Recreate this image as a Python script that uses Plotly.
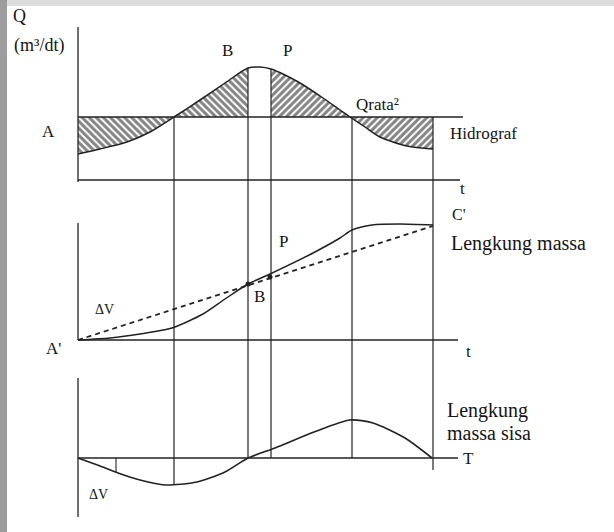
import plotly.graph_objects as go

# ---------------- data (arbitrary units) ----------------
# Hydrograph Q(t)
hyd_t = [0, 2.2, 4.9, 7.2, 9.6, 12.2, 14.7, 17.0, 18.2, 19.3, 20.7, 22.2, 24.5, 26.2, 27.2, 28.7, 30.2, 32.9, 35.5]
hyd_q = [2.6, 3.1, 3.8, 4.8, 6.3, 8.0, 9.7, 11.2, 11.3, 11.1, 10.5, 9.7, 8.2, 7.0, 6.3, 5.3, 4.3, 3.4, 3.1]
q_mean = 6.3

# Mass curve V(t)
mass_t = [0, 3.2, 6.2, 9.4, 12.5, 14.7, 17.0, 19.2, 23.5, 26.2, 27.4, 29.4, 32.2, 35.5]
mass_v = [0, 0.2, 0.6, 1.2, 2.6, 4.1, 5.6, 6.6, 8.7, 10.2, 11.0, 11.5, 11.6, 11.5]
mean_line_t = [0, 35.5]
mean_line_v = [0, 11.4]
pts_t = [17.0, 19.2]          # B, P on mass curve
pts_v = [5.6, 6.3]

# Residual mass curve R(t)
res_t = [0, 2.2, 4.0, 6.2, 8.7, 11.9, 14.7, 17.0, 19.7, 23.6, 27.2, 29.5, 32.7, 35.4]
res_r = [0, -0.8, -1.5, -2.2, -2.7, -2.4, -1.4, 0, 1.0, 2.6, 3.8, 3.5, 2.0, 0]

# Vertical construction lines
v_t = [9.6, 17.0, 19.3, 27.4, 35.5]
v_top_q = [6.3, 11.2, 11.1, 6.3, 6.3]
v_bot_r = [-2.6, 0, 0, 0, -1.2]

# ---------------- layout constants ----------------
OFF_TOP, OFF_MID, OFF_BOT = 35.2, 19.2, 7.4
INK = "#222222"
FONT = "Liberation Serif"

def top(v): return [OFF_TOP + a for a in v]
def mid(v): return [OFF_MID + a for a in v]
def bot(v): return [OFF_BOT + a for a in v]

fig = go.Figure()

def line(x, y, w=1.3, dash=None, shape="linear", color=INK):
    fig.add_trace(go.Scatter(x=x, y=y, mode="lines", hoverinfo="skip",
                             line=dict(color=color, width=w, dash=dash, shape=shape,
                                       smoothing=0.7)))

def hatch(ts, qs, shp):
    xs = list(ts) + [ts[-1], ts[0]]
    ys = top(list(qs) + [q_mean, q_mean])
    fig.add_trace(go.Scatter(x=xs, y=ys, mode="lines", fill="toself",
                             fillcolor="rgba(0,0,0,0)", line=dict(width=0),
                             hoverinfo="skip",
                             fillpattern=dict(shape=shp, size=5, solidity=0.6,
                                              fgcolor="#0a0a0a", bgcolor="rgba(0,0,0,0)")))

# hatched areas between hydrograph and mean
def seg(lo, hi):
    idx = [i for i, t in enumerate(hyd_t) if lo - 1e-9 <= t <= hi + 1e-9]
    return [hyd_t[i] for i in idx], [hyd_q[i] for i in idx]

a = seg(0, 9.6); hatch(a[0], a[1], "\\")
a = seg(9.6, 17.0); hatch(a[0], a[1], "\\")
a = seg(19.3, 27.2); hatch([19.3] + a[0], [q_mean] + a[1], "/")
a = seg(27.2, 35.5); hatch(a[0], a[1], "/")

# ---- top panel axes ----
line([0, 0], top([-0.2, 15.3]))
line([0, 38.2], top([0, 0]))
line([0, 38.5], top([q_mean, q_mean]))
# vertical construction lines
for t, q, r in zip(v_t, v_top_q, v_bot_r):
    line([t, t], [OFF_TOP + q, OFF_BOT + r], w=1.2)
line(hyd_t, top(hyd_q), w=1.5, shape="spline")

# ---- middle panel ----
line([0, 0], mid([0, 11.7]))
line([0, 38.0], mid([0, 0]))
line(mass_t, mid(mass_v), w=1.5, shape="spline")
line(mean_line_t, mid(mean_line_v), w=1.8, dash="5px,4px")
fig.add_trace(go.Scatter(x=pts_t, y=mid(pts_v), mode="markers", hoverinfo="skip",
                         marker=dict(color=INK, size=5)))

# ---- bottom panel ----
line([0, 0], bot([8.0, -5.9]))
line([0, 38.0], bot([0, 0]))
line([3.8, 3.8], bot([0, -1.5]), w=1.1)
line(res_t, bot(res_r), w=1.6, shape="spline")

# ---------------- text ----------------
def txt(x, y, s, size=16, anchor="center"):
    fig.add_annotation(x=x, y=y, text=s, showarrow=False, xanchor=anchor, yanchor="middle",
                       font=dict(family=FONT, size=size, color="#151515"))

def px(xp): return (xp - 78) / 10
def py(yp): return (532 - yp) / 10

txt(px(19), py(16), "Q", 18)
txt(px(39), py(45), "(m³/dt)", 18)
txt(px(227), py(50), "B", 17)
txt(px(287), py(50), "P", 17)
txt(px(48), py(131), "A", 17)
txt(px(448), py(133), "Hidrograf", 17, "left")
txt(px(354), py(104), "Qrata²", 17, "left")
txt(px(462), py(188), "t", 17)
txt(px(450), py(214), "C'", 16, "left")
txt(px(449), py(243), "Lengkung massa", 20, "left")
txt(px(283), py(241), "P", 17)
txt(px(259), py(296), "B", 17)
txt(px(104), py(309), "ΔV", 14)
txt(px(53), py(348), "A'", 17)
txt(px(468), py(351), "t", 17)
txt(px(445), py(410), "Lengkung", 20, "left")
txt(px(445), py(433), "massa sisa", 20, "left")
txt(px(468), py(458), "T", 17)
txt(px(98), py(494), "ΔV", 14)

# frame decoration
fig.add_shape(type="rect", xref="paper", yref="paper", x0=0, x1=1, y0=1 - 6/532, y1=1,
              fillcolor="#dcdcdc", line=dict(width=0), layer="below")
fig.add_shape(type="rect", xref="paper", yref="paper", x0=0, x1=7/614, y0=0, y1=1,
              fillcolor="#9c9c9c", line=dict(width=0), layer="below")

fig.update_layout(width=614, height=532, margin=dict(l=0, r=0, t=0, b=0),
                  paper_bgcolor="white", plot_bgcolor="white", showlegend=False,
                  xaxis=dict(range=[-7.8, 53.6], visible=False, fixedrange=True),
                  yaxis=dict(range=[0, 53.2], visible=False, fixedrange=True))
fig.write_html("out.html", config={"displayModeBar": False},
               post_script="document.body.style.margin='0';document.body.style.overflow='hidden';")
